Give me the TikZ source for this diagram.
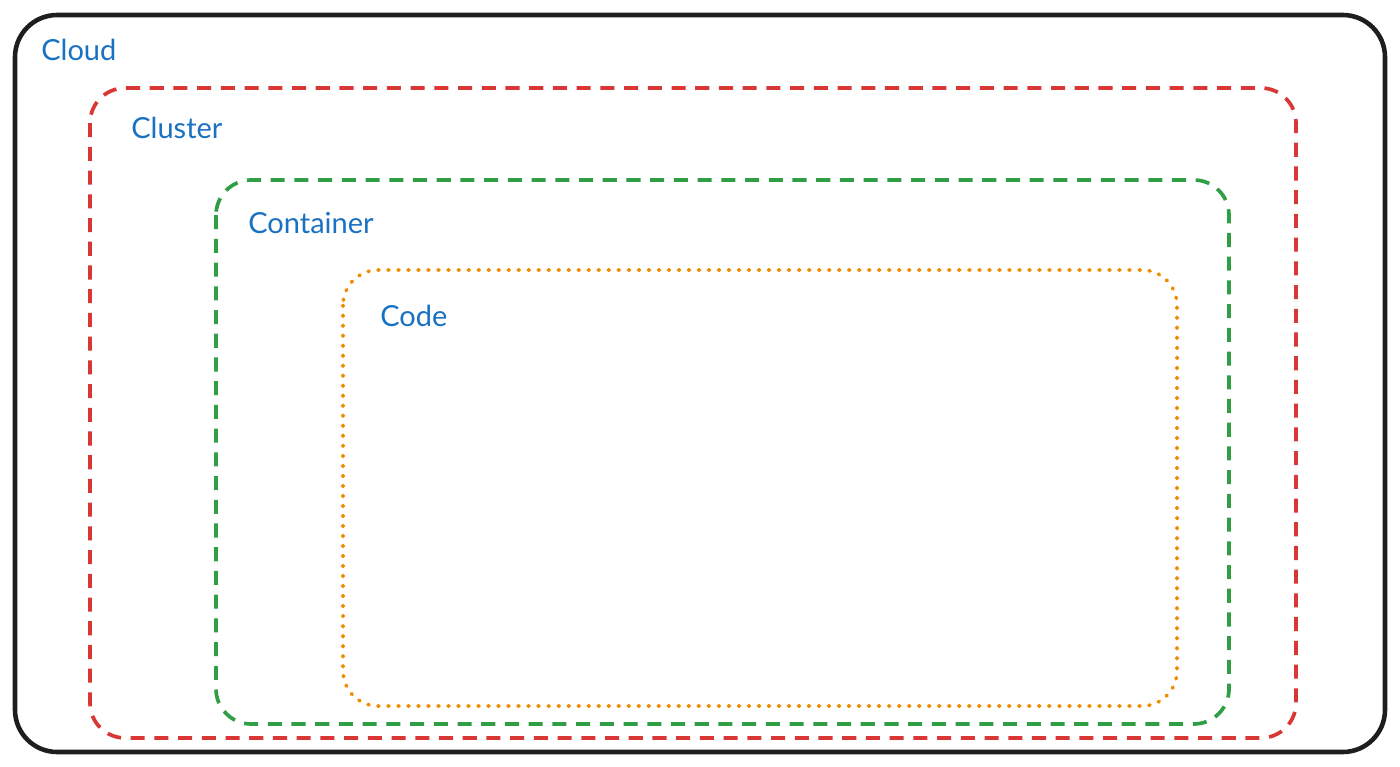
\documentclass[tikz,border=0pt]{standalone}
\usepackage{fontspec}
\setmainfont{Lato}
\definecolor{labelblue}{HTML}{1971C2}
\definecolor{cloudline}{HTML}{1E1E1E}
\definecolor{clusterred}{HTML}{D93636}
\definecolor{containergreen}{HTML}{2F9E44}
\definecolor{codeorange}{HTML}{F08C00}
\tikzset{
  layerlabel/.style={anchor=west, text=labelblue, inner sep=0pt,
    font=\fontsize{16.5}{19}\selectfont},
  frame/.style={line width=2.1pt, rounded corners=20pt},
  dashframe/.style={frame, dash pattern=on 8pt off 5.5pt},
}
\begin{document}
\begin{tikzpicture}[x=0.02cm, y=-0.02cm]
  \useasboundingbox (0,0) rectangle (1400,767);

  % Outer frame
  \draw[frame, cloudline, line width=2.6pt, rounded corners=24pt] (15,15) rectangle (1385,752);
  \node[layerlabel] (cloud) at (41,50) {Cloud};

  % Cluster
  \draw[dashframe, clusterred] (90,88) rectangle (1296,738);
  \node[layerlabel] (cluster) at (131,128) {Cluster};

  % Container
  \draw[dashframe, containergreen] (216,180) rectangle (1229,724);
  \node[layerlabel] (container) at (248,223) {Container};

  % Code
  \draw[frame, codeorange, line cap=round, dash pattern=on 0.6pt off 5.1pt] (343,270) rectangle (1177,706);
  \node[layerlabel] (code) at (380,316) {Code};
\end{tikzpicture}
\end{document}
